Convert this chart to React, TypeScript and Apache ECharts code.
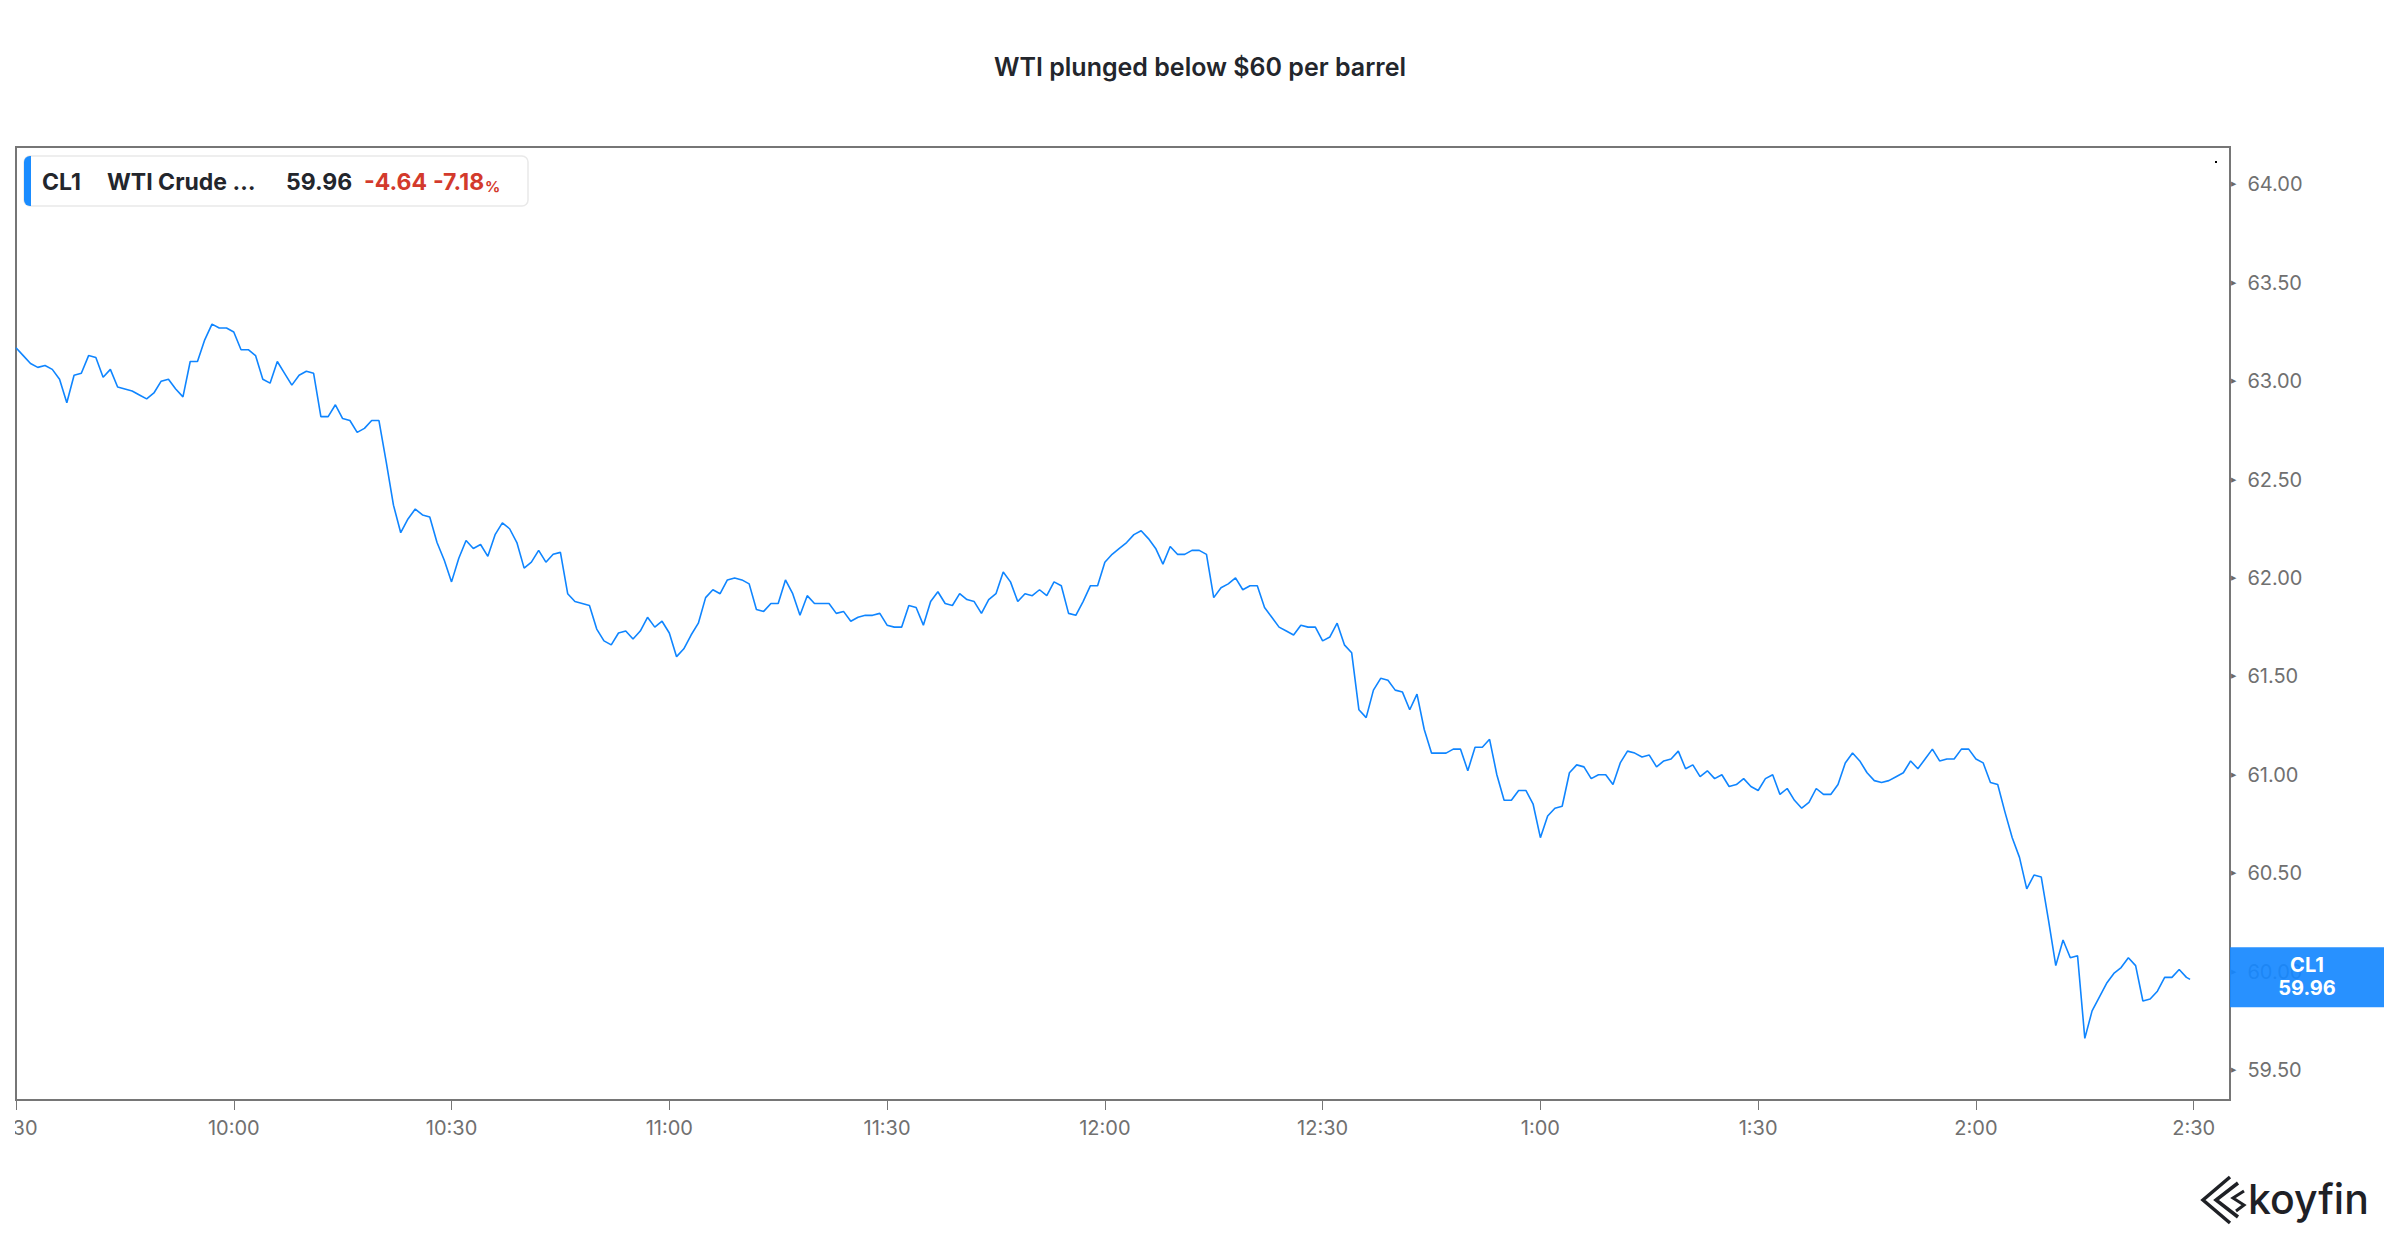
import React, { useEffect, useRef } from "react";
import * as echarts from "echarts";

const TITLE = "WTI plunged below $60 per barrel";
const TICKER = "CL1";
const NAME = "WTI Crude …";
const LAST_TEXT = "59.96";
const CHANGE_TEXT = "-4.64";
const CHANGE_PCT_TEXT = "-7.18";

// One-minute closes, minutes after 9:30
const prices0930 = [63.17, 63.13, 63.09, 63.07, 63.08, 63.06, 63.01, 62.89, 63.03, 63.04, 63.13, 63.12, 63.02, 63.06, 62.97, 62.96, 62.95, 62.93, 62.91, 62.94, 63.0, 63.01, 62.96, 62.92, 63.1, 63.1, 63.21, 63.29, 63.27, 63.27];
const prices1000 = [63.25, 63.16, 63.16, 63.13, 63.01, 62.99, 63.1, 63.04, 62.98, 63.03, 63.05, 63.04, 62.82, 62.82, 62.88, 62.81, 62.8, 62.74, 62.76, 62.8, 62.8, 62.59, 62.37, 62.23, 62.3, 62.35, 62.32, 62.31, 62.18, 62.09];
const prices1030 = [61.98, 62.1, 62.19, 62.15, 62.17, 62.11, 62.22, 62.28, 62.25, 62.18, 62.05, 62.08, 62.14, 62.08, 62.12, 62.13, 61.92, 61.88, 61.87, 61.86, 61.74, 61.68, 61.66, 61.72, 61.73, 61.69, 61.73, 61.8, 61.75, 61.78];
const prices1100 = [61.72, 61.6, 61.64, 61.71, 61.77, 61.9, 61.94, 61.92, 61.99, 62.0, 61.99, 61.97, 61.84, 61.83, 61.87, 61.87, 61.99, 61.92, 61.81, 61.91, 61.87, 61.87, 61.87, 61.82, 61.83, 61.78, 61.8, 61.81, 61.81, 61.82];
const prices1130 = [61.76, 61.75, 61.75, 61.86, 61.85, 61.76, 61.88, 61.93, 61.87, 61.86, 61.92, 61.89, 61.88, 61.82, 61.89, 61.92, 62.03, 61.98, 61.88, 61.92, 61.91, 61.94, 61.91, 61.98, 61.96, 61.82, 61.81, 61.88, 61.96, 61.96];
const prices1200 = [62.08, 62.12, 62.15, 62.18, 62.22, 62.24, 62.2, 62.15, 62.07, 62.16, 62.12, 62.12, 62.14, 62.14, 62.12, 61.9, 61.95, 61.97, 62.0, 61.94, 61.96, 61.96, 61.85, 61.8, 61.75, 61.73, 61.71, 61.76, 61.75, 61.75];
const prices1230 = [61.68, 61.7, 61.77, 61.66, 61.62, 61.33, 61.29, 61.43, 61.49, 61.48, 61.43, 61.42, 61.33, 61.41, 61.23, 61.11, 61.11, 61.11, 61.13, 61.13, 61.02, 61.14, 61.14, 61.18, 61.0, 60.87, 60.87, 60.92, 60.92, 60.85];
const prices1300 = [60.68, 60.79, 60.83, 60.84, 61.01, 61.05, 61.04, 60.98, 61.0, 61.0, 60.95, 61.06, 61.12, 61.11, 61.09, 61.1, 61.04, 61.07, 61.08, 61.12, 61.03, 61.05, 60.99, 61.02, 60.98, 61.0, 60.94, 60.95, 60.98, 60.94];
const prices1330 = [60.92, 60.98, 61.0, 60.9, 60.93, 60.87, 60.83, 60.86, 60.93, 60.9, 60.9, 60.95, 61.06, 61.11, 61.07, 61.01, 60.97, 60.96, 60.97, 60.99, 61.01, 61.07, 61.03, 61.08, 61.13, 61.07, 61.08, 61.08, 61.13, 61.13];
const prices1400 = [61.08, 61.06, 60.96, 60.95, 60.81, 60.68, 60.58, 60.42, 60.49, 60.48, 60.26, 60.03, 60.16, 60.07, 60.08, 59.66, 59.8, 59.87, 59.94, 59.99, 60.02, 60.07, 60.03, 59.85, 59.86, 59.9, 59.97, 59.97, 60.01, 59.97];
const lastTickMinute = 299.5;
const lastTickPrice = 59.96;

const timeTicks = [0, 30, 60, 90, 120, 150, 180, 210, 240, 270, 300];
const priceTicks = [59.5, 60, 60.5, 61, 61.5, 62, 62.5, 63, 63.5, 64];

const FONT = "Inter, 'Noto Sans', 'DejaVu Sans', sans-serif";
const LINE_BLUE = "#0f85ff";
const BADGE_BLUE = "rgba(22,136,255,0.92)";
const AXIS_GRAY = "#767676";
const LABEL_GRAY = "#707070";
const DARK = "#23262c";
const RED = "#d33a2c";

const fmtTime = (m: number) => {
  const t = 570 + Math.round(m);
  let h = Math.floor(t / 60);
  const mm = t % 60;
  if (h > 12) h -= 12;
  return `${h}:${String(mm).padStart(2, "0")}`;
};

export default function App() {
  const ref = useRef<HTMLDivElement>(null);

  useEffect(() => {
    if (!ref.current) return;
    const chart = echarts.init(ref.current, undefined, { renderer: "svg" });

    const closes = [
      ...prices0930, ...prices1000, ...prices1030, ...prices1100, ...prices1130,
      ...prices1200, ...prices1230, ...prices1300, ...prices1330, ...prices1400,
    ];
    const data: number[][] = closes.map((v, i) => [i, v]);
    data.push([lastTickMinute, lastTickPrice]);

    const legendText = (x: number, text: string, fill: string) => ({
      type: "text",
      z: 52,
      x,
      y: 182,
      style: { text, fill, fontSize: 23, fontWeight: 700, fontFamily: FONT, align: "left", verticalAlign: "middle" },
    });

    const baseGraphics: any[] = [
      // legend box
      { type: "rect", z: 50, shape: { x: 24, y: 156, width: 504, height: 50, r: 6 }, style: { fill: "#fff", stroke: "#e9e9e9", lineWidth: 1.5 } },
      { type: "rect", z: 51, shape: { x: 24, y: 156, width: 7, height: 50, r: [6, 0, 0, 6] }, style: { fill: "#1a8cff" } },
      legendText(42, TICKER, DARK),
      legendText(107, NAME, DARK),
      legendText(286, LAST_TEXT, DARK),
      legendText(364, CHANGE_TEXT, RED),
      {
        type: "text",
        z: 52,
        x: 433,
        y: 182,
        style: {
          text: `${CHANGE_PCT_TEXT}{p|%}`,
          fill: RED,
          fontSize: 23,
          fontWeight: 700,
          fontFamily: FONT,
          align: "left",
          verticalAlign: "middle",
          rich: { p: { fontSize: 15, fontWeight: 700, fill: RED, fontFamily: FONT, padding: [8, 0, 0, 1] } },
        },
      },
      // tiny marker top right
      { type: "rect", z: 50, shape: { x: 2215, y: 161, width: 2, height: 2 }, style: { fill: "#000" } },
      // clip first time label at frame edge
      { type: "rect", z: 100, shape: { x: 0, y: 1104, width: 15, height: 50 }, style: { fill: "#fff" } },
      // koyfin logo
      { type: "polyline", z: 50, shape: { points: [[2230, 1177], [2203, 1200], [2230, 1223]] }, style: { stroke: "#1f2126", lineWidth: 3.5, fill: null } },
      { type: "polyline", z: 50, shape: { points: [[2238, 1183], [2216, 1200], [2238, 1217]] }, style: { stroke: "#1f2126", lineWidth: 3.5, fill: null } },
      { type: "polyline", z: 50, shape: { points: [[2244, 1191], [2233, 1198], [2244, 1205], [2236, 1211]] }, style: { stroke: "#1f2126", lineWidth: 3, fill: null } },
      { type: "text", z: 50, x: 2248, y: 1199, style: { text: "koyfin", fill: "#1f2126", fontSize: 41, fontWeight: 500, fontFamily: FONT, align: "left", verticalAlign: "middle" } },
    ];

    const makeOption = (graphics: any[]) => ({
      animation: false,
      backgroundColor: "#fff",
      title: {
        text: TITLE,
        left: "center",
        top: 49,
        textStyle: { fontSize: 25, fontWeight: 600, color: DARK, fontFamily: FONT },
      },
      grid: {
        left: 16,
        right: 170,
        top: 147,
        bottom: 140,
        show: true,
        borderColor: AXIS_GRAY,
        borderWidth: 2,
        backgroundColor: "transparent",
        containLabel: false,
        outerBoundsMode: "none",
      },
      xAxis: {
        type: "value",
        min: 0,
        max: 305,
        interval: 30,
        axisLine: { show: true, lineStyle: { color: AXIS_GRAY, width: 2 } },
        axisTick: { show: true, length: 10, customValues: timeTicks, lineStyle: { color: AXIS_GRAY, width: 1 } },
        axisLabel: {
          customValues: timeTicks,
          formatter: (v: number) => fmtTime(v),
          color: LABEL_GRAY,
          fontSize: 20,
          fontFamily: FONT,
          margin: 18,
          hideOverlap: false,
        },
        splitLine: { show: false },
      },
      yAxis: {
        type: "value",
        position: "right",
        min: 59.347,
        max: 64.19,
        scale: true,
        axisLine: { show: false },
        axisTick: { show: false },
        splitLine: { show: false },
        axisLabel: {
          customValues: priceTicks,
          margin: 1,
          formatter: (v: number) => `{t|▶}{v|${v.toFixed(2)}}`,
          rich: {
            t: { fontSize: 7, color: "#6a6a6a", padding: [0, 11, 0, 0], fontFamily: "DejaVu Sans" },
            v: { fontSize: 20, color: LABEL_GRAY, fontFamily: FONT },
          },
        },
      },
      series: [
        {
          type: "line",
          data,
          showSymbol: false,
          symbol: "none",
          lineStyle: { color: LINE_BLUE, width: 1.6 },
          z: 5,
        },
      ],
      graphic: graphics,
    });

    chart.setOption(makeOption(baseGraphics));
    const yPix = chart.convertToPixel({ yAxisIndex: 0 }, lastTickPrice) as number;
    const badge: any[] = [
      { type: "rect", z: 120, shape: { x: 2230, y: yPix - 32, width: 154, height: 60 }, style: { fill: BADGE_BLUE } },
      { type: "text", z: 121, x: 2307, y: yPix - 14, style: { text: TICKER, fill: "#fff", fontSize: 20, fontWeight: 700, fontFamily: FONT, align: "center", verticalAlign: "middle" } },
      { type: "text", z: 121, x: 2307, y: yPix + 9, style: { text: LAST_TEXT, fill: "#fff", fontSize: 20, fontWeight: 700, fontFamily: FONT, align: "center", verticalAlign: "middle" } },
    ];
    chart.setOption(makeOption([...baseGraphics, ...badge]), true);

    return () => chart.dispose();
  }, []);

  return (
    <div
      ref={ref}
      style={{ position: "fixed", left: 0, top: 0, width: 2400, height: 1240, background: "#fff" }}
    />
  );
}
